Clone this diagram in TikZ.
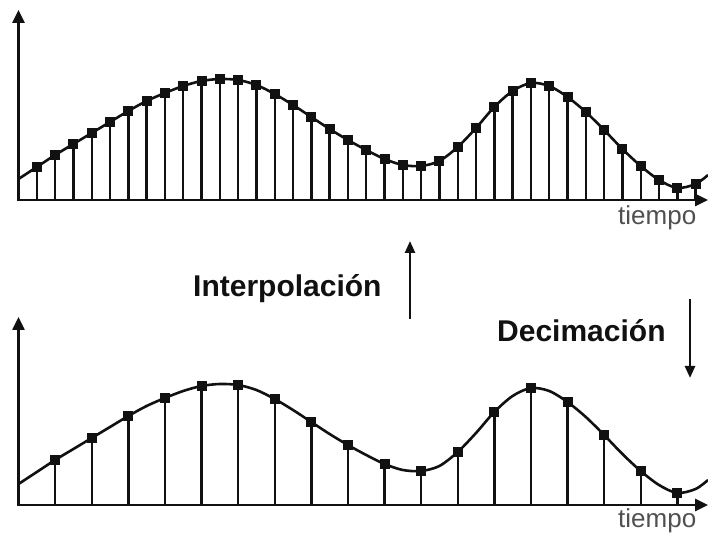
\documentclass[tikz,border=0pt]{standalone}
\usepackage{fontspec}
\setmainfont{Liberation Sans}
\usetikzlibrary{arrows.meta}
\definecolor{InkBlack}{HTML}{111111}
\definecolor{TimeGray}{HTML}{505050}
\tikzset{
  axis/.style={draw=InkBlack,line width=2.5pt,{Triangle[width=12pt,length=13pt]}-{Triangle[width=12pt,length=13pt]}},
  wave/.style={draw=InkBlack,line width=2.6pt,line join=round},
  stem/.style={draw=InkBlack,line width=2.4pt},
  flow/.style={draw=InkBlack,line width=2.5pt,-{Triangle[width=10pt,length=12pt]}},
  flowlabel/.style={font=\fontsize{30}{36}\selectfont\bfseries,text=InkBlack,inner sep=0pt,anchor=base west},
  timelabel/.style={font=\fontsize{26}{30}\selectfont,text=TimeGray,inner sep=0pt,anchor=base west}
}
\newcommand{\heights}{33,45,56,67,78,89,99,107,114,119,121,120,115,106,95,83,71,60,50,41,35,34,39,53,72,93,109,117,114,103,88,70,51,34,20,12,16}
\newcommand{\drawwave}{\draw[wave] plot[smooth,tension=0.5] coordinates {(18.5,21) (36.8,33) (55.1,45) (73.4,56) (91.7,67) (110,78) (128.3,89) (146.6,99) (164.9,107) (183.2,114) (201.5,119) (219.8,121) (238.1,120) (256.4,115) (274.7,106) (293,95) (311.3,83) (329.6,71) (347.9,60) (366.2,50) (384.5,41) (402.8,35) (421.1,34) (439.4,39) (457.7,53) (476,72) (494.3,93) (512.6,109) (530.9,117) (549.2,114) (567.5,103) (585.8,88) (604.1,70) (622.4,51) (640.7,34) (659,20) (677.3,12) (695.6,16) (708,25)};}
\newcommand{\sample}[2]{\draw[stem] (#1,0) -- (#1,#2); \fill[InkBlack] (#1,#2) ++(-5,-5) rectangle ++(10,10);}

\begin{document}
\begin{tikzpicture}[x=1pt,y=1pt]
  \useasboundingbox (0,0) rectangle (708,535);
  % interpolated signal
  \begin{scope}[shift={(0,335)}]
    \drawwave
    \foreach \h [count=\k] in \heights {\sample{18.5+18.3*\k}{\h}}
    \draw[axis] (18.5,190) -- (18.5,0) -- (708,0);
  \end{scope}
  % decimated signal
  \begin{scope}[shift={(0,30)}]
    \drawwave
    \foreach \h [count=\k] in \heights {\ifodd\k\else\sample{18.5+18.3*\k}{\h}\fi}
    \draw[axis] (18.5,188) -- (18.5,0) -- (708,0);
  \end{scope}
  \node[timelabel] (timetop) at (618,310) {tiempo};
  \node[timelabel] (timebot) at (618,8) {tiempo};
  \node[flowlabel] (interp) at (193,238) {Interpolación};
  \node[flowlabel] (decim) at (497,193) {Decimación};
  \coordinate (interplow) at (410,216);
  \coordinate (interphigh) at (410,294);
  \coordinate (decimhigh) at (690,236);
  \coordinate (decimlow) at (690,157);
  \draw[flow] (interplow) -- (interphigh);
  \draw[flow] (decimhigh) -- (decimlow);
\end{tikzpicture}
\end{document}
